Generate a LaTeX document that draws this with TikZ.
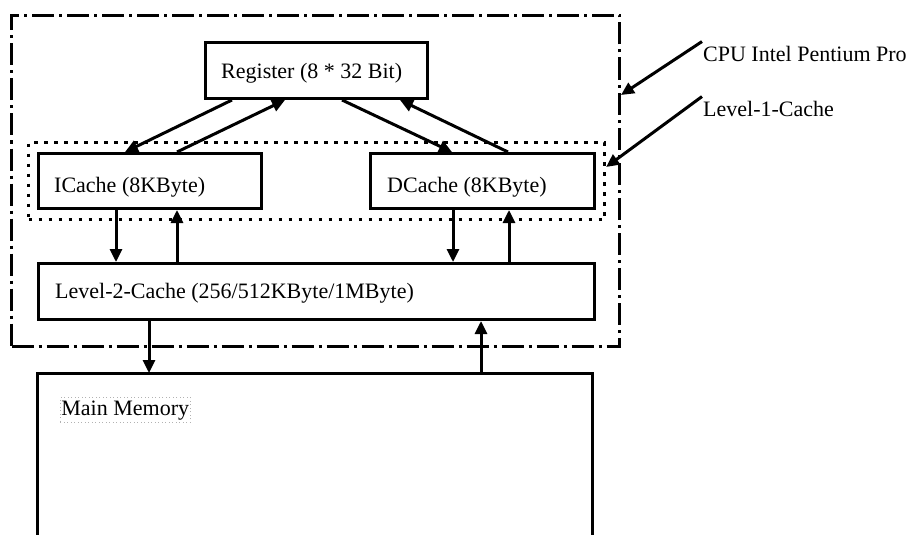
\documentclass[tikz,border=0pt]{standalone}
\usepackage{fontspec}
\setmainfont{Liberation Serif}
\usetikzlibrary{arrows.meta}
\begin{document}
\begin{tikzpicture}[x=1pt,y=-1pt,
  box/.style={draw,line width=3pt,anchor=north west,inner sep=0pt},
  lbl/.style={inner sep=0pt,anchor=base west,font=\fontsize{22}{26}\selectfont},
  arr/.style={line width=3pt,-{Triangle[length=13pt,width=12pt]}},
  dashdot/.style={draw,line width=3pt,dash pattern=on 22pt off 5pt on 3pt off 5pt,anchor=north west,inner sep=0pt},
  dots/.style={draw,line width=3.2pt,dash pattern=on 3.5pt off 6.5pt,anchor=north west,inner sep=0pt}]
\useasboundingbox (0,0) rectangle (908,535);

% outer CPU frame and level-1 frame
\node[dashdot,minimum width=608pt,minimum height=331pt] (cpu) at (10,14) {};
\node[dots,minimum width=576pt,minimum height=77pt] (l1) at (27,141) {};

% boxes
\node[box,minimum width=222pt,minimum height=56pt] (reg) at (204,41) {};
\node[box,minimum width=223pt,minimum height=55pt] (ic) at (37,152) {};
\node[box,minimum width=224pt,minimum height=55pt] (dc) at (369,152) {};
\node[box,minimum width=556pt,minimum height=56pt] (l2) at (37,262) {};
\node[inner sep=0pt,anchor=north west,minimum width=555pt,minimum height=162pt] (mem) at (37,373) {};
\draw[line width=3pt] (mem.south west) -- (mem.north west) -- (mem.north east) -- (mem.south east);

% texts
\node[lbl] (tReg) at (221,78) {Register (8 * 32 Bit)};
\node[lbl] (tIC) at (54,192) {ICache (8KByte)};
\node[lbl] (tDC) at (387,192) {DCache (8KByte)};
\node[lbl] (tL2) at (55,298) {Level-2-Cache (256/512KByte/1MByte)};
\node[lbl,draw=gray!60,line width=0.8pt,dash pattern=on 1pt off 2.5pt,inner xsep=1pt,inner ysep=3pt] (tMem) at (60,415) {Main Memory};
\node[lbl] (tCPU) at (703,62) {CPU Intel Pentium Pro};
\node[lbl] (tL1) at (703,117) {Level-1-Cache};

% register <-> L1 caches
\draw[arr] ([xshift=28pt]reg.south west) -- ([xshift=88pt]ic.north west);
\draw[arr] ([xshift=140pt]ic.north west) -- ([xshift=81pt]reg.south west);
\draw[arr] ([xshift=138pt]reg.south west) -- ([xshift=83pt]dc.north west);
\draw[arr] ([xshift=139pt]dc.north west) -- ([xshift=196pt]reg.south west);

% L1 <-> L2
\draw[arr] ([xshift=79pt]ic.south west) -- ([xshift=79pt]l2.north west);
\draw[arr] ([xshift=140pt]l2.north west) -- ([xshift=140pt]ic.south west);
\draw[arr] ([xshift=84pt]dc.south west) -- ([xshift=416pt]l2.north west);
\draw[arr] ([xshift=472pt]l2.north west) -- ([xshift=140pt]dc.south west);

% L2 <-> memory
\draw[arr] ([xshift=112pt]l2.south west) -- ([xshift=112pt]mem.north west);
\draw[arr] ([xshift=444pt]mem.north west) -- ([xshift=444pt]l2.south west);

% label arrows
\draw[arr] ([xshift=-1pt,yshift=5pt]tCPU.north west) -- ([yshift=-81pt]cpu.north east);
\draw[arr] ([xshift=-1pt,yshift=5pt]tL1.north west) -- ([yshift=-26pt]l1.north east);
\end{tikzpicture}
\end{document}
